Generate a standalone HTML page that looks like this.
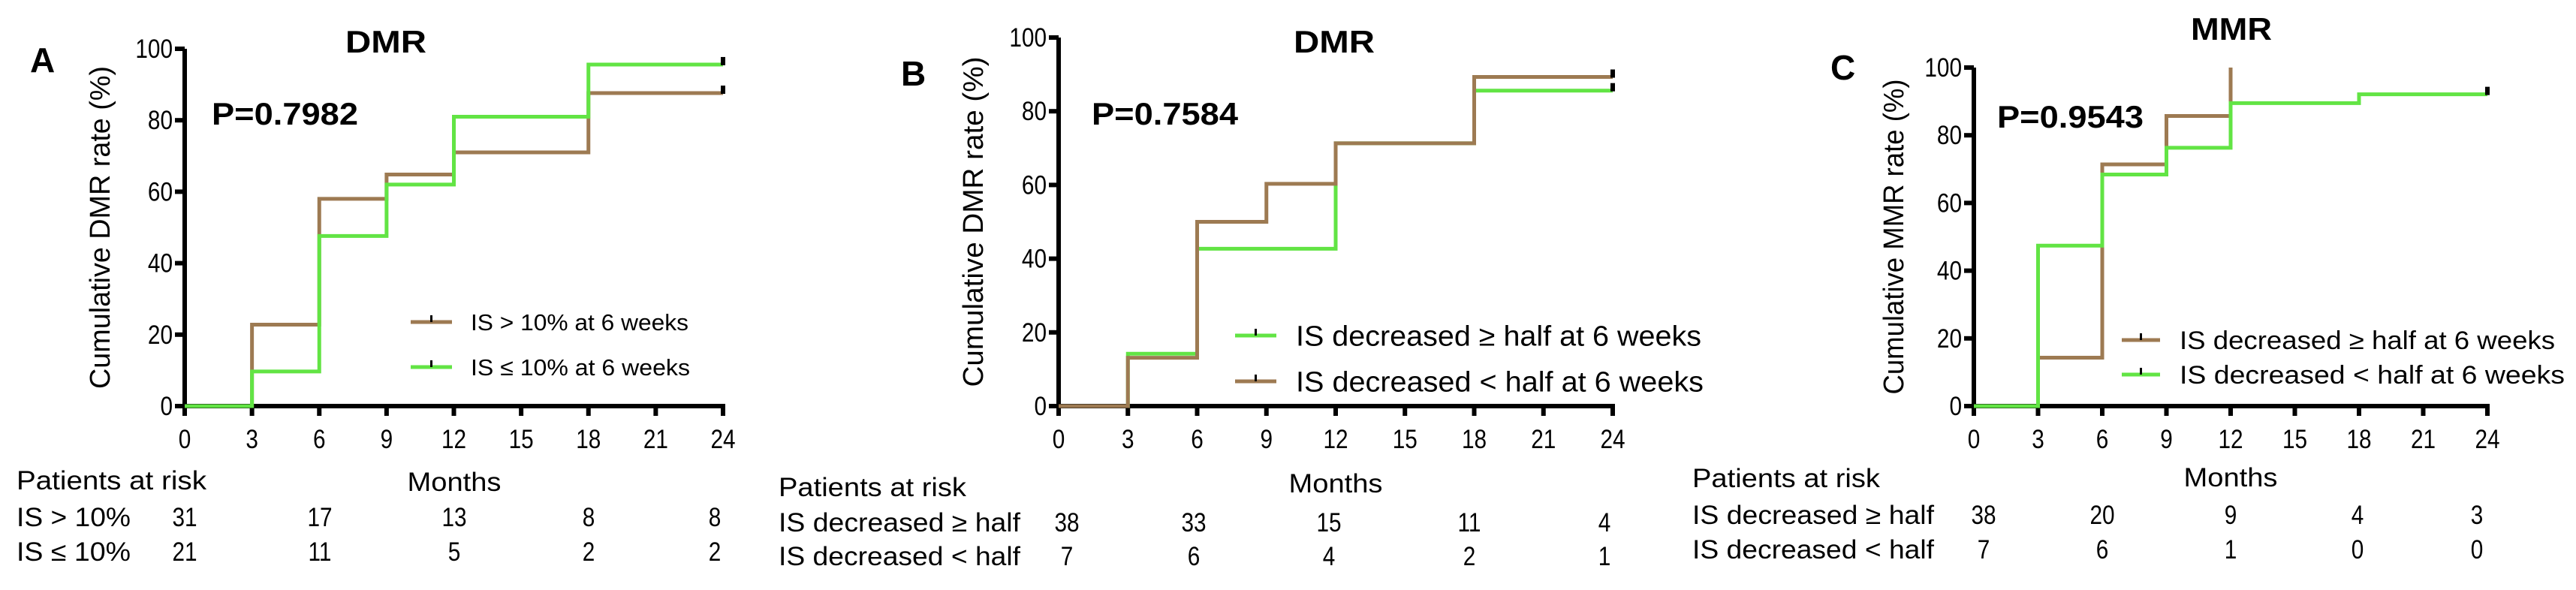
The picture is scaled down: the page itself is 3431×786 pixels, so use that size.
<!DOCTYPE html>
<html><head><meta charset="utf-8">
<style>
html,body{margin:0;padding:0;background:#fff;}
svg{display:block;font-family:"Liberation Sans",Arial,sans-serif;}
</style></head>
<body>
<svg id="chart" width="3431" height="786" viewBox="0 0 3431 786" xmlns="http://www.w3.org/2000/svg"></svg>
<script>
// ---------- data ----------
const xTicks = [0,3,6,9,12,15,18,21,24];
const yTicks = [0,20,40,60,80,100];
// Panel A
const aTimes = [0,3,6,9,12,18,24];
const aBrown = [0,22.8,58,64.8,71,87.6,87.6];
const aGreen = [0,9.7,47.6,62,81,95.6,95.6];
const aRisk1 = [31,17,13,8,8];
const aRisk2 = [21,11,5,2,2];
// Panel B
const bTimes = [0,3,6,9,12,18,24];
const bGreen = [0,14.2,42.7,42.7,71.3,85.6,85.6];
const bBrown = [0,13.1,50,60.3,71.3,89.3,89.3];
const bRisk1 = [38,33,15,11,4];
const bRisk2 = [7,6,4,2,1];
// Panel C
const cBrownTimes = [0,3,6,9,12];
const cBrown = [0,14.3,71.4,85.7,100];
const cGreenTimes = [0,3,6,9,12,18,24];
const cGreen = [0,47.4,68.4,76.3,89.5,92.1,92.1];
const cRisk1 = [38,20,9,4,3];
const cRisk2 = [7,6,1,0,0];

const BROWN = "#9d7a52", GREEN = "#62e444";
const svg = document.getElementById('chart');
const NS = "http://www.w3.org/2000/svg";
function mk(tag, attrs, parent){
  const e = document.createElementNS(NS, tag);
  for (const k in attrs) e.setAttribute(k, attrs[k]);
  (parent||svg).appendChild(e); return e;
}
function txt(s, attrs, parent){ const e = mk('text', attrs, parent); e.textContent = s; return e; }
// narrow-tall text: draw at (x,y) scaled horizontally
function ntxt(s, x, y, fs, anchor, parent){
  return txt(s, {x:0, y:0, 'font-size':fs, 'text-anchor':anchor, transform:`translate(${x},${y}) scale(0.85,1)`}, parent);
}

function panel(cfg){
  const g = mk('g', {});
  
  
  const X = t => cfg.x0 + (cfg.x1 - cfg.x0) * t / 24;
  const Y = v => cfg.y0 - (cfg.y0 - cfg.y100) * v / 100;
  const L = txt(cfg.letter, {x:cfg.letterX, y:cfg.letterY, 'font-size':46, 'font-weight':'bold'}, g);
  
  
  const T = txt(cfg.title, {x:cfg.titleX, y:cfg.titleY, 'font-size':42, 'font-weight':'bold', 'text-anchor':'middle', textLength:108, lengthAdjust:'spacingAndGlyphs'}, g);
  
  
  const P = txt(cfg.p, {x:cfg.pX, y:cfg.pY, 'font-size':42, 'font-weight':'bold', textLength:195, lengthAdjust:'spacingAndGlyphs'}, g);
  
  
  const yc = (cfg.y0 + cfg.y100) / 2 + cfg.ytOff;
  const YT = txt(cfg.ytitle, {x:0, y:0, 'font-size':38, 'text-anchor':'middle', transform:`translate(${cfg.ytX},${yc}) rotate(-90)`, textLength:cfg.ytLen, lengthAdjust:'spacingAndGlyphs'}, g);
  
  
  const ax = mk('g', {stroke:'#000', 'stroke-width':6, fill:'none'}, g);
  
  
  mk('line', {x1:cfg.x0, y1:cfg.y100, x2:cfg.x0, y2:cfg.y0+3}, ax);
  mk('line', {x1:cfg.x0-3, y1:cfg.y0, x2:cfg.x1+3, y2:cfg.y0}, ax);
  yTicks.forEach(v => {
    mk('line', {x1:cfg.x0-13, y1:Y(v), x2:cfg.x0, y2:Y(v)}, ax);
    const t = ntxt(String(v), cfg.x0-16, Y(v)+12, 35, 'end', g);
    
    
  });
  xTicks.forEach(v => {
    mk('line', {x1:X(v), y1:cfg.y0, x2:X(v), y2:cfg.y0+13}, ax);
    const t = ntxt(String(v), X(v), cfg.y0+56, 35, 'middle', g);
    
    
  });
  cfg.series.forEach(s => {
    let d = `M${X(s.times[0])},${Y(s.vals[0])}`;
    for (let i=1;i<s.times.length;i++){
      d += ` H${X(s.times[i])} V${Y(s.vals[i])}`;
    }
    const p = mk('path', {d, stroke:s.color, 'stroke-width':5, fill:'none'}, g);
    
    
    if (s.censor){
      const last = s.vals[s.vals.length-1];
      const c = mk('rect', {x:X(24)-3, y:Y(last)-10, width:6, height:11, fill:'#000'}, g);
      
      
    }
  });
  cfg.legend.forEach((l, i) => {
    const lg = mk('g', {}, g);
    
    
    const y = cfg.legY[i];
    mk('line', {x1:cfg.legX, y1:y, x2:cfg.legX+cfg.legW, y2:y, stroke:l.color, 'stroke-width':5}, lg);
    mk('line', {x1:cfg.legX+cfg.legW/2, y1:y-9, x2:cfg.legX+cfg.legW/2, y2:y, stroke:'#000', 'stroke-width':3}, lg);
    txt(l.label, {x:cfg.legTX, y:y+cfg.legFS*0.36, 'font-size':cfg.legFS, textLength:cfg.legTL[i], lengthAdjust:'spacingAndGlyphs'}, lg);
  });
  const rt = mk('g', {'font-size':35}, g);
  
  
  txt('Patients at risk', {x:cfg.rtX, y:cfg.rtHY, textLength:cfg.rtHL, lengthAdjust:'spacingAndGlyphs'}, rt);
  txt('Months', {x:cfg.monthsX, y:cfg.monthsY, 'text-anchor':'middle', textLength:125, lengthAdjust:'spacingAndGlyphs'}, rt);
  cfg.rows.forEach((r, i) => {
    const y = cfg.rowY[i];
    txt(r.label, {x:cfg.rtX, y, textLength:cfg.rowLL, lengthAdjust:'spacingAndGlyphs'}, rt);
    r.vals.forEach((v, j) => {
      ntxt(String(v), cfg.valX[j], y, 35, 'middle', rt);
    });
  });
}

panel({name:'panel-a', letter:'A', letterX:40, letterY:96, title:'DMR', titleX:514, titleY:70,
  p:'P=0.7982', pX:282, pY:166, ytitle:'Cumulative DMR rate (%)', ytX:146, ytOff:0, ytLen:430,
  x0:246, x1:963, y0:541, y100:65,
  series:[{name:'curve-is-gt-10', times:aTimes, vals:aBrown, color:BROWN, censor:true},
          {name:'curve-is-le-10', times:aTimes, vals:aGreen, color:GREEN, censor:true}],
  legend:[{label:'IS > 10% at 6 weeks', color:BROWN},{label:'IS \u2264 10% at 6 weeks', color:GREEN}],
  legX:547, legW:55, legY:[429,489], legTX:627, legFS:31, legTL:[290,292],
  rtX:22, rtHY:652, rtHL:253, monthsX:605, monthsY:654,
  rows:[{label:'IS > 10%', vals:aRisk1},{label:'IS \u2264 10%', vals:aRisk2}], rowY:[701,747], rowLL:152,
  valX:[246,426,605,784,952]});

panel({name:'panel-b', letter:'B', letterX:1200, letterY:114, title:'DMR', titleX:1777, titleY:70,
  p:'P=0.7584', pX:1454, pY:166, ytitle:'Cumulative DMR rate (%)', ytX:1309, ytOff:0, ytLen:440,
  x0:1410, x1:2148, y0:541, y100:50,
  series:[{name:'curve-decreased-ge-half', times:bTimes, vals:bGreen, color:GREEN, censor:true},
          {name:'curve-decreased-lt-half', times:bTimes, vals:bBrown, color:BROWN, censor:true}],
  legend:[{label:'IS decreased \u2265 half at 6 weeks', color:GREEN},{label:'IS decreased < half at 6 weeks', color:BROWN}],
  legX:1645, legW:55, legY:[447,508], legTX:1726, legFS:38, legTL:[540,543],
  rtX:1037, rtHY:661, rtHL:250, monthsX:1779, monthsY:656,
  rows:[{label:'IS decreased \u2265 half', vals:bRisk1},{label:'IS decreased < half', vals:bRisk2}], rowY:[708,753], rowLL:322,
  valX:[1421,1590,1770,1957,2137]});

panel({name:'panel-c', letter:'C', letterX:2438, letterY:106, title:'MMR', titleX:2972, titleY:53,
  p:'P=0.9543', pX:2660, pY:170, ytitle:'Cumulative MMR rate (%)', ytX:2535, ytOff:0, ytLen:420,
  x0:2629, x1:3313, y0:541, y100:90,
  series:[{name:'curve-decreased-ge-half', times:cBrownTimes, vals:cBrown, color:BROWN, censor:false},
          {name:'curve-decreased-lt-half', times:cGreenTimes, vals:cGreen, color:GREEN, censor:true}],
  legend:[{label:'IS decreased \u2265 half at 6 weeks', color:BROWN},{label:'IS decreased <  half at 6 weeks', color:GREEN}],
  legX:2826, legW:51, legY:[453,499], legTX:2903, legFS:34, legTL:[500,513],
  rtX:2254, rtHY:649, rtHL:250, monthsX:2971, monthsY:648,
  rows:[{label:'IS decreased \u2265 half', vals:cRisk1},{label:'IS decreased < half', vals:cRisk2}], rowY:[698,744], rowLL:322,
  valX:[2642,2800,2971,3140,3299]});
</script>
</body></html>
